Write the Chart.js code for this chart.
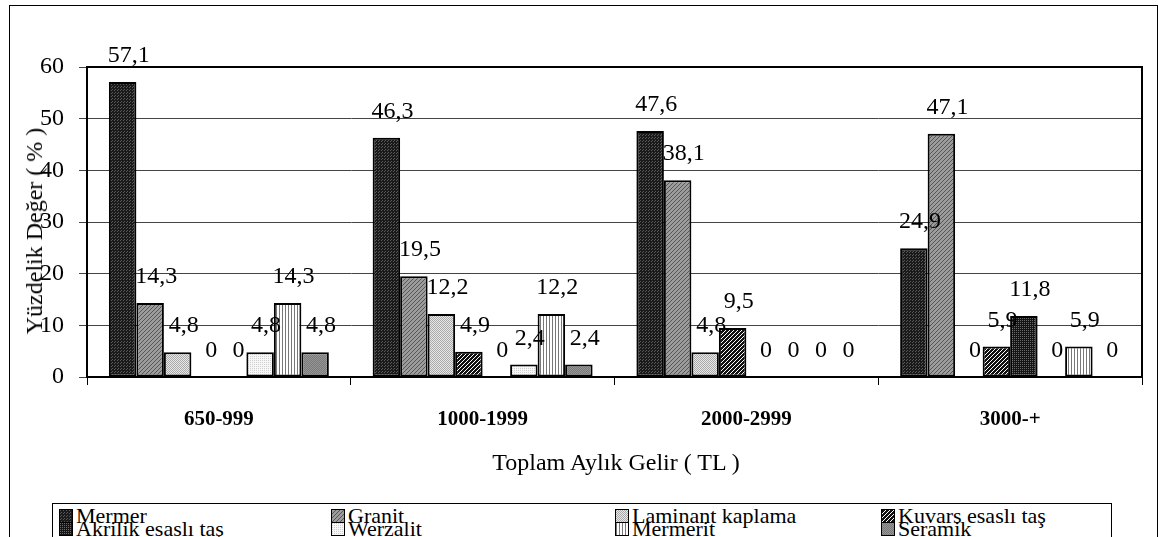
<!DOCTYPE html>
<html>
<head>
<meta charset="utf-8">
<script src="https://cdn.jsdelivr.net/npm/chart.js@4.4.1/dist/chart.umd.min.js"></script>
<style>
  body { margin: 0; background: #fff; font-family: "Liberation Serif", "DejaVu Serif", serif; }
  #wrap { position: relative; width: 1158px; height: 537px; overflow: hidden; }
  #frame { position: absolute; left: 9px; top: 5px; width: 1147px; height: 560px; border: 1px solid #000; }
  canvas { position: absolute; left: 0; top: 0; }
  #ytitle { position: absolute; left: 34px; top: 231px; transform: translate(-50%, -50%) rotate(-90deg);
            white-space: nowrap; font-size: 24px; line-height: 24px; }
  #xtitle { position: absolute; left: 616px; top: 450px; transform: translateX(-50%);
            white-space: nowrap; font-size: 24px; line-height: 24px; }
  #legend { position: absolute; left: 52px; top: 503px; width: 1058px; height: 60px; border: 1px solid #000; background: #fff; }
  .item { position: absolute; font-size: 22px; line-height: 14px; white-space: nowrap; }
  .sw { display: inline-block; width: 12px; height: 12px; border: 1px solid #000; margin-right: 3px; vertical-align: 0px; }
</style>
</head>
<body>
<div id="wrap">
  <div id="frame"></div>
  <canvas id="chart" width="1158" height="537"></canvas>
  <div id="ytitle">Yüzdelik Değer ( % )</div>
  <div id="xtitle">Toplam Aylık Gelir ( TL )</div>
  <div id="legend"></div>
</div>
<script>
var kategoriler = ["650-999", "1000-1999", "2000-2999", "3000-+"];
var seriler = ["Mermer", "Granit", "Laminant kaplama", "Kuvars esaslı taş",
               "Akrilik esaslı taş", "Werzalit", "Mermerit", "Seramik"];

var mermer   = [57.1, 46.3, 47.6, 24.9];
var granit   = [14.3, 19.5, 38.1, 47.1];
var laminant = [4.8, 12.2, 4.8, 0];
var kuvars   = [0, 4.9, 9.5, 5.9];
var akrilik  = [0, 0, 0, 11.8];
var werzalit = [4.8, 2.4, 0, 0];
var mermerit = [14.3, 12.2, 0, 5.9];
var seramik  = [4.8, 2.4, 0, 0];

var yTicks = [0, 10, 20, 30, 40, 50, 60];

// small tiles for the excel-like fill patterns
function tile(w, h, bg, fg, pts) {
  var c = document.createElement('canvas');
  c.width = w; c.height = h;
  var g = c.getContext('2d');
  g.fillStyle = bg; g.fillRect(0, 0, w, h);
  g.fillStyle = fg;
  pts.forEach(function (p) { g.fillRect(p[0], p[1], 1, 1); });
  return c;
}

var tiles = [
  tile(3, 3, '#1a1a1a', '#5a5a5a', [[0, 0], [1, 2]]),                       // Mermer
  tile(4, 4, '#9c9c9c', '#555555', [[0, 3], [1, 2], [2, 1], [3, 0]]),       // Granit
  tile(2, 2, '#e8e8e8', '#a9a9a9', [[0, 0], [1, 1]]),                       // Laminant
  tile(4, 4, '#111111', '#ffffff', [[0, 3], [1, 2], [2, 1], [3, 0]]),       // Kuvars
  tile(2, 2, '#151515', '#6a6a6a', [[0, 0]]),                               // Akrilik
  tile(2, 2, '#f7f7f7', '#cfcfcf', [[0, 0]]),                               // Werzalit
  tile(3, 1, '#ffffff', '#777777', [[0, 0]]),                               // Mermerit
  tile(2, 2, '#7a7a7a', '#959595', [[0, 0], [1, 1]])                        // Seramik
];

var degerler = [mermer, granit, laminant, kuvars, akrilik, werzalit, mermerit, seramik];
var ctx = document.getElementById('chart').getContext('2d');

var datasets = seriler.map(function (ad, i) {
  return {
    label: ad,
    data: degerler[i],
    backgroundColor: ctx.createPattern(tiles[i], 'repeat'),
    borderColor: '#000',
    borderWidth: 2,
    borderSkipped: false
  };
});

// value labels above the bars, with comma decimals
var degerEtiketleri = {
  id: 'degerEtiketleri',
  afterDatasetsDraw: function (chart) {
    var c = chart.ctx;
    c.save();
    c.font = '24px "Liberation Serif"';
    c.fillStyle = '#000';
    c.textAlign = 'center';
    chart.data.datasets.forEach(function (ds, i) {
      chart.getDatasetMeta(i).data.forEach(function (bar, j) {
        c.fillText(String(ds.data[j]).replace('.', ','), bar.x + 6, bar.y - 20);
      });
    });
    c.restore();
  }
};

// box round the plot area
var cerceve = {
  id: 'cerceve',
  afterDraw: function (chart) {
    var a = chart.chartArea, c = chart.ctx;
    c.save();
    c.strokeStyle = '#000';
    c.lineWidth = 2;
    c.strokeRect(a.left, a.top, a.right - a.left, a.bottom - a.top);
    c.restore();
  }
};

new Chart(ctx, {
  type: 'bar',
  data: { labels: kategoriler, datasets: datasets },
  options: {
    responsive: false,
    animation: false,
    devicePixelRatio: 1,
    layout: { padding: { top: 67, right: 16, left: 0, bottom: 0 } },
    datasets: { bar: { categoryPercentage: 0.834, barPercentage: 1 } },
    plugins: { legend: { display: false }, tooltip: { enabled: false } },
    scales: {
      x: {
        afterFit: function (s) { s.height = 160; },
        grid: { offset: true, drawOnChartArea: false, color: '#000', tickLength: 8, lineWidth: 1 },
        border: { color: '#000', width: 2 },
        ticks: { color: '#000', padding: 22, font: { family: 'Liberation Serif', size: 21, weight: 'bold' } }
      },
      y: {
        min: 0, max: 60,
        afterFit: function (s) { s.width = 87; },
        afterBuildTicks: function (s) { s.ticks = yTicks.map(function (v) { return { value: v }; }); },
        grid: { color: '#444', tickLength: 8, lineWidth: 1 },
        border: { color: '#000', width: 2 },
        ticks: { color: '#000', padding: 15, font: { family: 'Liberation Serif', size: 24 } }
      }
    }
  },
  plugins: [degerEtiketleri, cerceve]
});

// legend, 4 columns x 2 rows
var legend = document.getElementById('legend');
var kolonX = [6, 278, 562, 828];
seriler.forEach(function (ad, i) {
  var d = document.createElement('div');
  d.className = 'item';
  d.style.left = kolonX[i % 4] + 'px';
  d.style.top = (i < 4 ? 5 : 18) + 'px';
  var sw = document.createElement('span');
  sw.className = 'sw';
  sw.style.backgroundImage = 'url(' + tiles[i].toDataURL() + ')';
  d.appendChild(sw);
  d.appendChild(document.createTextNode(ad));
  legend.appendChild(d);
});
</script>
</body>
</html>
